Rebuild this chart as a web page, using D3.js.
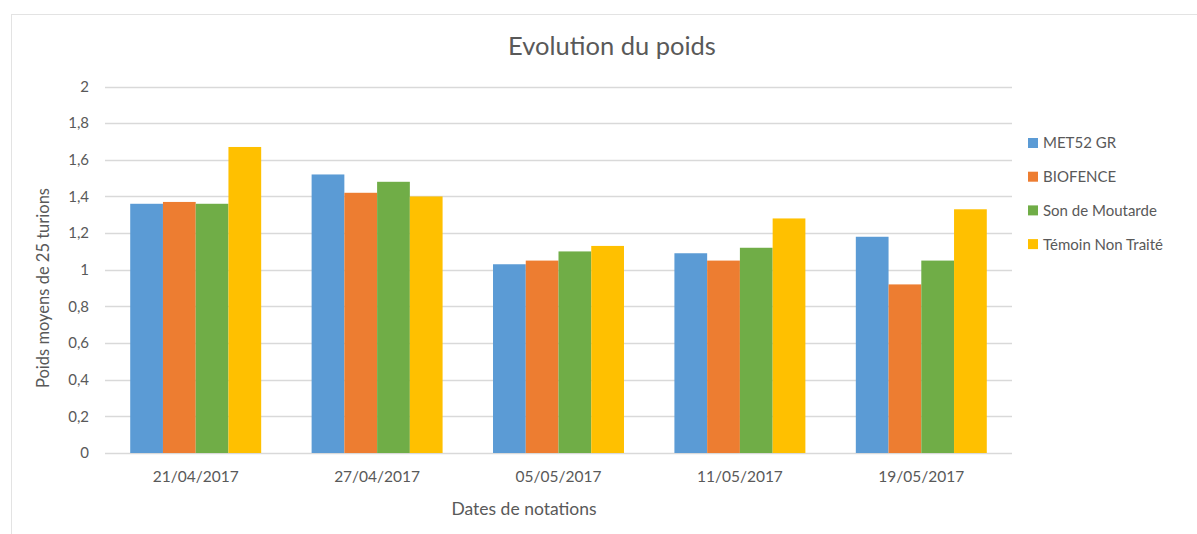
<!DOCTYPE html>
<html>
<head>
<meta charset="utf-8">
<script src="https://cdn.jsdelivr.net/npm/d3@7"></script>
<style>
  body { margin: 0; background: #fff; }
  svg { display: block; }
  text { font-family: Lato, "Open Sans", sans-serif; fill: #595959; }
</style>
</head>
<body>
<svg id="chart" width="1197" height="534"></svg>
<script>
var dates = ["21/04/2017", "27/04/2017", "05/05/2017", "11/05/2017", "19/05/2017"];
var seriesNames = ["MET52 GR", "BIOFENCE", "Son de Moutarde", "Témoin Non Traité"];
var met52 = [1.36, 1.52, 1.03, 1.09, 1.18];
var biofence = [1.37, 1.42, 1.05, 1.05, 0.92];
var sonMoutarde = [1.36, 1.48, 1.10, 1.12, 1.05];
var temoin = [1.67, 1.40, 1.13, 1.28, 1.33];
var yTicks = [0, 0.2, 0.4, 0.6, 0.8, 1, 1.2, 1.4, 1.6, 1.8, 2];
var colors = ["#5B9BD5", "#ED7D31", "#70AD47", "#FFC000"];

var values = [met52, biofence, sonMoutarde, temoin];
var svg = d3.select("#chart");

var plot = { left: 105, right: 1012, top: 86.5, bottom: 453 };

// chart area frame (only top and left edges are in view)
svg.append("rect")
  .attr("x", 11.5).attr("y", 14.5)
  .attr("width", 1250).attr("height", 600)
  .attr("fill", "none")
  .attr("stroke", "#E3E3E3");

var x0 = d3.scaleBand()
  .domain(dates)
  .range([plot.left, plot.right])
  .paddingInner(0.278)
  .paddingOuter(0.139);

var x1 = d3.scaleBand()
  .domain(d3.range(seriesNames.length))
  .range([0, x0.bandwidth()]);

var y = d3.scaleLinear()
  .domain([0, 2])
  .range([plot.bottom, plot.top]);

// gridlines
svg.append("g")
  .selectAll("line")
  .data(yTicks)
  .enter()
  .append("line")
    .attr("x1", plot.left)
    .attr("x2", plot.right)
    .attr("y1", function(d) { return Math.round(y(d)) + 0.5; })
    .attr("y2", function(d) { return Math.round(y(d)) + 0.5; })
    .attr("stroke", "#D9D9D9")
    .attr("stroke-width", 1.3);

// bars
var groups = svg.append("g")
  .selectAll("g")
  .data(dates)
  .enter()
  .append("g")
    .attr("transform", function(d) { return "translate(" + x0(d) + ",0)"; });

groups.selectAll("rect")
  .data(function(d, i) {
    return values.map(function(s, j) { return { s: j, v: s[i] }; });
  })
  .enter()
  .append("rect")
    .attr("x", function(d) { return x1(d.s); })
    .attr("width", x1.bandwidth())
    .attr("y", function(d) { return y(d.v); })
    .attr("height", function(d) { return y(0) - y(d.v); })
    .attr("fill", function(d) { return colors[d.s]; });

// y axis
var yAxis = svg.append("g")
  .attr("transform", "translate(" + plot.left + ",0)")
  .call(d3.axisLeft(y)
    .tickValues(yTicks)
    .tickSize(0)
    .tickPadding(16)
    .tickFormat(function(d) { return String(d).replace(".", ","); }));
yAxis.select(".domain").remove();
yAxis.selectAll("text")
  .style("font-size", "15px")
  .attr("fill", "#595959");

// x axis
var xAxis = svg.append("g")
  .attr("transform", "translate(0," + plot.bottom + ")")
  .call(d3.axisBottom(x0).tickSize(0).tickPadding(18));
xAxis.select(".domain").remove();
xAxis.selectAll("text")
  .style("font-size", "15.5px")
  .attr("fill", "#595959");

// title and axis titles
svg.append("text")
  .attr("x", 612)
  .attr("y", 55)
  .attr("text-anchor", "middle")
  .style("font-size", "25.5px")
  .text("Evolution du poids");

svg.append("text")
  .attr("x", 524)
  .attr("y", 515)
  .attr("text-anchor", "middle")
  .style("font-size", "17.5px")
  .text("Dates de notations");

svg.append("text")
  .attr("transform", "translate(49,288) rotate(-90)")
  .attr("text-anchor", "middle")
  .style("font-size", "16.5px")
  .text("Poids moyens de 25 turions");

// legend
var legend = svg.append("g")
  .selectAll("g")
  .data(seriesNames)
  .enter()
  .append("g")
    .attr("transform", function(d, i) { return "translate(1028," + (143 + i * 33.7) + ")"; });

legend.append("rect")
  .attr("x", 0)
  .attr("y", -5)
  .attr("width", 10)
  .attr("height", 10)
  .attr("fill", function(d, i) { return colors[i]; });

legend.append("text")
  .attr("x", 15)
  .attr("dy", "0.36em")
  .style("font-size", "15px")
  .text(function(d) { return d; });
</script>
</body>
</html>
